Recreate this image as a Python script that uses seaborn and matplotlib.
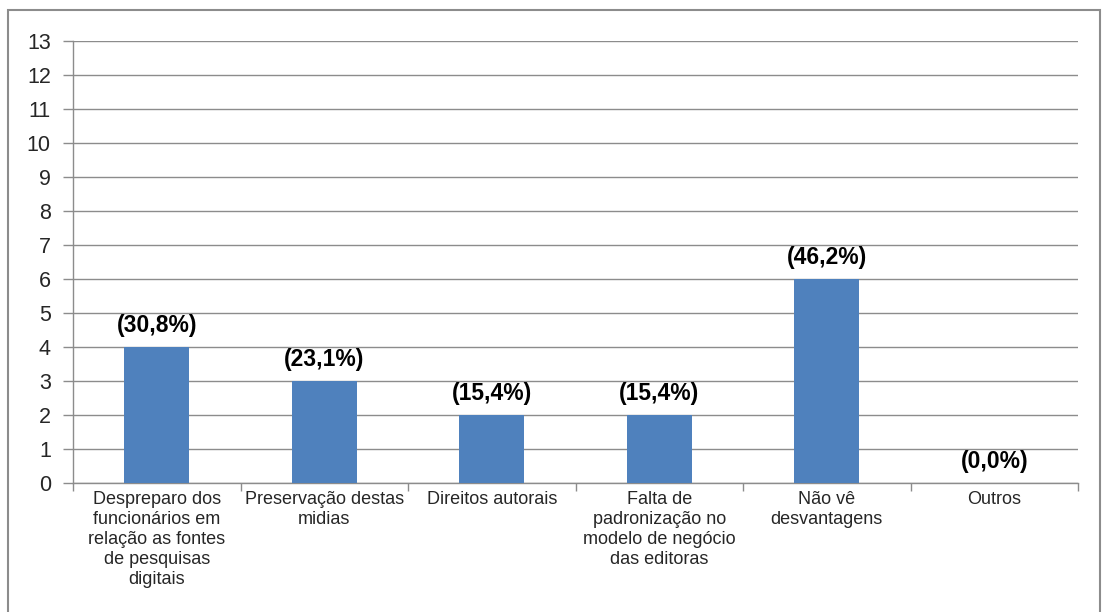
import matplotlib
matplotlib.use("Agg")
import matplotlib.pyplot as plt
from matplotlib.patches import Rectangle
import seaborn as sns
import pandas as pd

categories = [
    "Despreparo dos\nfuncionários em\nrelação as fontes\nde pesquisas\ndigitais",
    "Preservação destas\nmidias",
    "Direitos autorais",
    "Falta de\npadronização no\nmodelo de negócio\ndas editoras",
    "Não vê\ndesvantagens",
    "Outros",
]
counts = [4, 3, 2, 2, 6, 0]
percent_labels = ["(30,8%)", "(23,1%)", "(15,4%)", "(15,4%)", "(46,2%)", "(0,0%)"]

sns.set_style("white")
plt.rcParams["font.family"] = ["Liberation Sans", "DejaVu Sans"]

df = pd.DataFrame({"categoria": categories, "total": counts})

fig = plt.figure(figsize=(11.06, 6.12), dpi=100)
ax = fig.add_axes([73 / 1106, 1 - 483 / 612, (1078 - 73) / 1106, (483 - 41) / 612])

sns.barplot(data=df, x="categoria", y="total", color="#4F81BD", width=0.39,
            saturation=1, linewidth=0, ax=ax, zorder=3)

ax.set_ylim(0, 13)
ax.set_xlim(-0.5, len(categories) - 0.5)
ax.set_yticks(range(0, 14))
ax.yaxis.grid(True, color="#8C8C8C", linewidth=1, zorder=0)
ax.xaxis.grid(False)
ax.set_xlabel("")
ax.set_ylabel("")

for side in ["top", "right"]:
    ax.spines[side].set_visible(False)
for side in ["left", "bottom"]:
    ax.spines[side].set_color("#8C8C8C")
    ax.spines[side].set_linewidth(1)

ax.tick_params(axis="y", length=7, width=1, color="#8C8C8C", labelsize=15.5,
               pad=9, left=True)
ax.tick_params(axis="x", length=0, labelsize=13, pad=6)
for lbl in ax.get_xticklabels():
    lbl.set_linespacing(1.23)
    lbl.set_verticalalignment("top")

# boundary ticks between categories on the x axis
ax.set_xticks([i - 0.5 for i in range(len(categories) + 1)], minor=True)
ax.tick_params(axis="x", which="minor", length=6, width=1, color="#8C8C8C",
               bottom=True, direction="out")

for i, (v, txt) in enumerate(zip(counts, percent_labels)):
    ax.annotate(txt, xy=(i, v), xytext=(0, 7), textcoords="offset points",
                ha="center", va="bottom", fontsize=16.5, fontweight="bold",
                color="black")

fig.patches.append(Rectangle((8 / 1106, -0.01), (1100 - 8) / 1106, 1 - 10 / 612 + 0.01,
                             transform=fig.transFigure, fill=False,
                             edgecolor="#8C8C8C", linewidth=1.5))

fig.savefig("out.png", dpi=100)
